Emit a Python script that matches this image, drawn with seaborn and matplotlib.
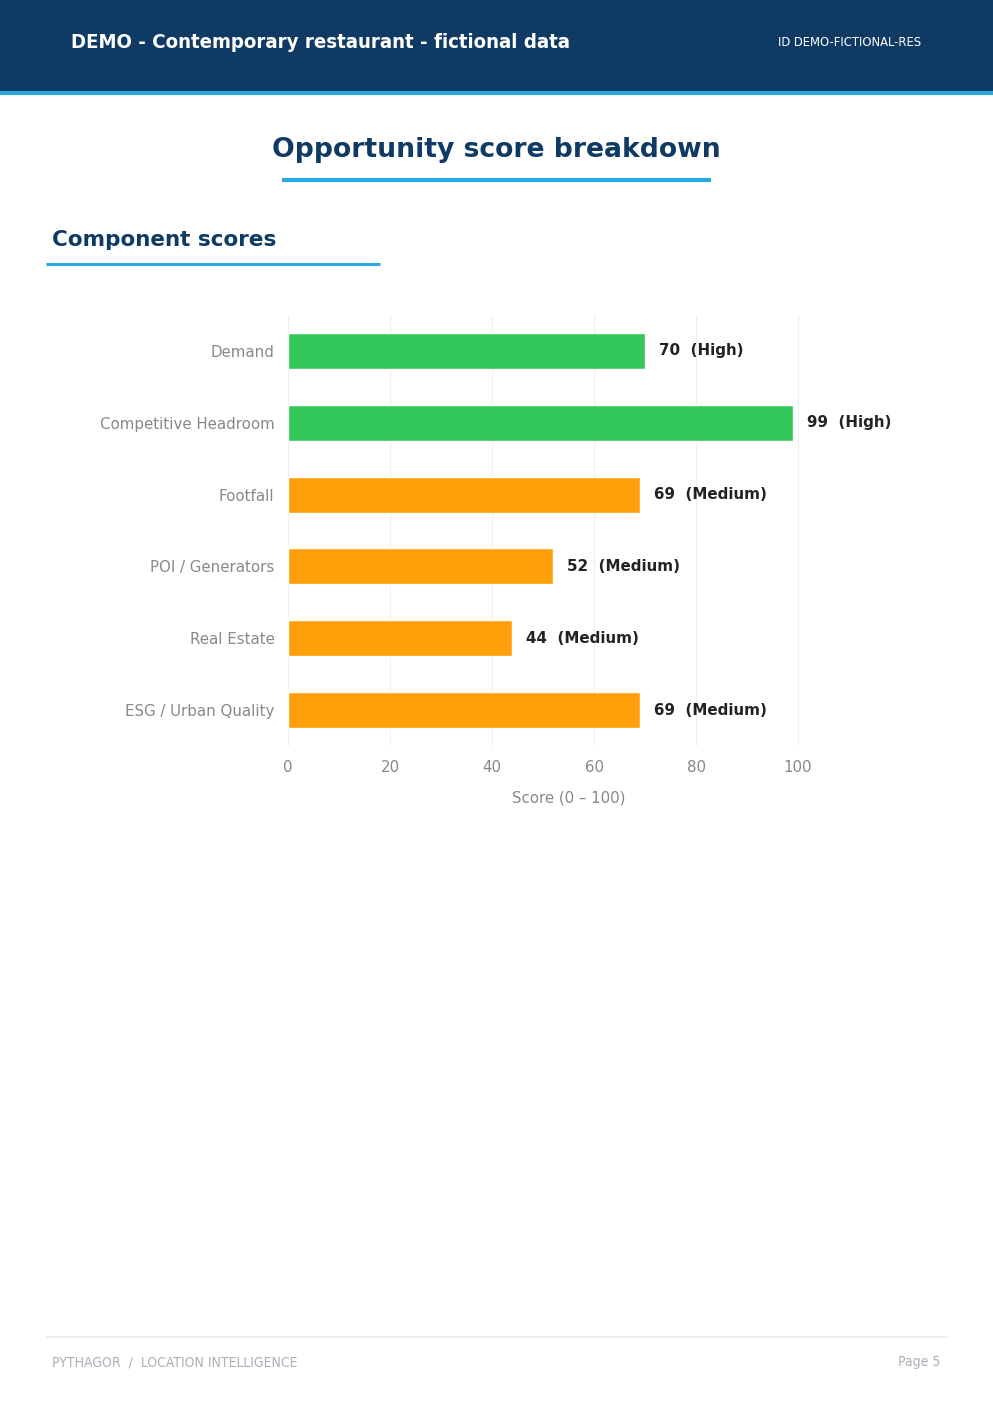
import matplotlib
matplotlib.use("Agg")
import matplotlib.pyplot as plt
import seaborn as sns
import pandas as pd
from matplotlib.patches import Rectangle
from matplotlib.lines import Line2D

# data
components = ["Demand", "Competitive Headroom", "Footfall",
              "POI / Generators", "Real Estate", "ESG / Urban Quality"]
scores = [70, 99, 69, 52, 44, 69]
levels = ["High", "High", "Medium", "Medium", "Medium", "Medium"]
x_ticks = [0, 20, 40, 60, 80, 100]

NAVY = "#0f3a63"
SKY = "#29abe2"
level_colors = {"High": "#34c759", "Medium": "#ff9f0a"}

W, H = 993, 1405


def px(x, y):
    return x / W, 1 - y / H


def hline(x0, x1, y, color, lw):
    # horizontal rule in page pixel coordinates
    fig.lines.append(Line2D([x0 / W, x1 / W], [1 - y / H] * 2,
                            transform=fig.transFigure, color=color, lw=lw,
                            solid_capstyle="butt"))


sns.set_theme(style="white")
plt.rcParams["font.family"] = ["DejaVu Sans"]

fig = plt.figure(figsize=(W / 100, H / 100), dpi=100)
fig.patch.set_facecolor("white")

# header band
fig.patches.append(Rectangle(px(0, 91), 1, 91 / H, transform=fig.transFigure,
                             facecolor=NAVY, edgecolor="none", zorder=0))
fig.patches.append(Rectangle(px(0, 95), 1, 4 / H, transform=fig.transFigure,
                             facecolor=SKY, edgecolor="none", zorder=0))
fig.text(*px(71, 42), "DEMO - Contemporary restaurant - fictional data",
         color="white", fontsize=14.6, fontweight="bold", fontstretch="condensed",
         ha="left", va="center")
fig.text(*px(921, 42), "ID DEMO-FICTIONAL-RES", color="white", fontsize=9.3,
         fontstretch="condensed", ha="right", va="center")

# page title
fig.text(*px(496, 150), "Opportunity score breakdown", color=NAVY,
         fontsize=19.2, fontweight="bold", ha="center", va="center")
hline(282, 711, 180, SKY, 3)

# section title
fig.text(*px(52, 240), "Component scores", color=NAVY, fontsize=15.5,
         fontweight="bold", ha="left", va="center")
hline(46, 380, 264, SKY, 2.2)

# chart
df = pd.DataFrame({"component": components, "score": scores, "level": levels})
ax = fig.add_axes([288 / W, 1 - 746 / H, 561 / W, 431 / H])
sns.barplot(data=df, x="score", y="component", hue="level",
            palette=level_colors, dodge=False, legend=False, width=0.5,
            saturation=1, ax=ax)
ax.set_xlim(0, 110)
ax.set_ylim(5.5, -0.5)
ax.set_xticks(x_ticks)
ax.grid(axis="x", color="#eeeeee", lw=0.8)
ax.grid(axis="y", visible=False)
ax.set_axisbelow(True)
for s in ax.spines.values():
    s.set_visible(False)
ax.tick_params(axis="both", length=0, labelsize=10.8, labelcolor="#888888")
ax.tick_params(axis="y", pad=9.8)
ax.tick_params(axis="x", pad=10)
ax.set_ylabel("")
ax.set_xlabel("Score (0 – 100)", fontsize=10.8, color="#888888", labelpad=11)

for i, (v, lv) in enumerate(zip(scores, levels)):
    ax.text(v + 2.7, i, f"{v}  ({lv})", va="center", ha="left",
            fontsize=10.9, fontweight="bold", color="#222222", clip_on=False)

# footer
hline(46, 947, 1337, "#eeeeee", 1.2)
fig.text(*px(52, 1362), "PYTHAGOR  /  LOCATION INTELLIGENCE", color="#aab0b8",
         fontsize=10, fontstretch="condensed", ha="left", va="center")
fig.text(*px(940, 1362), "Page 5", color="#aab0b8", fontsize=10,
         fontstretch="condensed", ha="right", va="center")

fig.savefig("out.png", dpi=100)
